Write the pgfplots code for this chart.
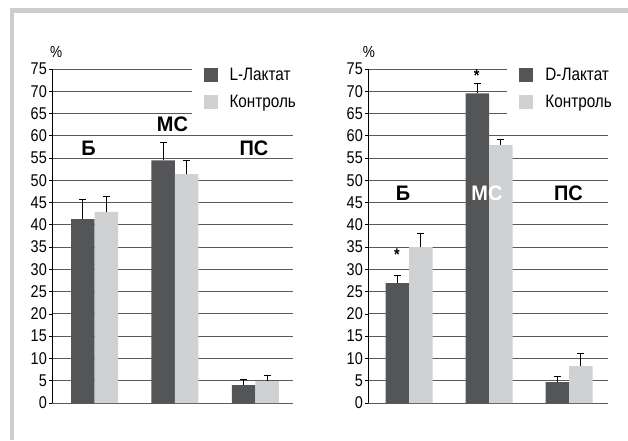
\documentclass[border=0pt]{standalone}
\usepackage{pgfplots}
\pgfplotsset{compat=1.18}
\usepackage{fontspec}
\setmainfont{Liberation Sans}[FakeStretch=0.85]
\newfontfamily\labfont{Liberation Sans}[FakeStretch=0.95]
\definecolor{darkbar}{HTML}{545557}
\definecolor{lightbar}{HTML}{D0D1D3}
\definecolor{gridgray}{HTML}{5A5A5A}
\definecolor{framegray}{HTML}{CDCDCD}
\pgfplotsset{
  common/.style={
    scale only axis, width=#1, height=334pt,
    ymin=0, ymax=75, ytick={0,5,...,75}, xtick=\empty,
    axis x line=none, axis y line*=left,
    y axis line style={-, black, line width=0.8pt},
    ymajorgrids, grid style={color=gridgray, line width=1pt},
    ytick style={black, line width=0.8pt}, major tick length=3pt, tick align=outside,
    yticklabel style={font=\fontsize{17}{17}\selectfont, inner sep=2pt},
    /pgf/number format/assume math mode=true,
    ybar=0pt, bar width=23.5pt, clip=false,
    legend style={draw=none, fill=white, font=\fontsize{18}{18}\selectfont,
      inner xsep=12pt, inner ysep=5pt, row sep=9pt, column sep=10pt, legend cell align=left,
      anchor=north west},
    legend image code/.code={\draw[##1, draw=none] (0pt,-7pt) rectangle (14pt,7pt);},
  },
  bars/.style={draw=none, fill=#1,
    error bars/.cd, y dir=plus, y explicit,
    error bar style={black, line width=0.9pt},
    error mark options={rotate=90, mark size=3.5pt, line width=0.9pt, black}},
}
\begin{document}
\begin{tikzpicture}[x=1pt,y=1pt]
\useasboundingbox (0,0) rectangle (628,440);
\fill[framegray] (10,426.7) rectangle (628,431.7);
\fill[framegray] (10,0) rectangle (14,431.7);

\begin{axis}[common=241pt, at={(52pt,37pt)}, anchor=south west,
  xmin=-0.528, xmax=2.466,
  legend style={at={(rel axis cs:0.578,1.025)}}]
\addplot[bars=darkbar] coordinates {(0,41.3) +- (0,4.3) (1,54.5) +- (0,4.1) (2,4.0) +- (0,1.3)};
\addplot[bars=lightbar] coordinates {(0,42.9) +- (0,3.4) (1,51.4) +- (0,3.0) (2,4.9) +- (0,1.3)};
\legend{L-Лактат, Контроль}
\node[font=\labfont\bfseries\fontsize{21}{21}\selectfont] at (axis cs:-0.075,57.2) {Б};
\node[font=\labfont\bfseries\fontsize{21}{21}\selectfont] at (axis cs:0.969,62.7) {МС};
\node[font=\labfont\bfseries\fontsize{21}{21}\selectfont] at (axis cs:1.981,57.2) {ПС};
\node[font=\fontsize{16}{16}\selectfont] at (rel axis cs:0.017,1.051) {\%};
\end{axis}

\begin{axis}[common=240pt, at={(368pt,37pt)}, anchor=south west,
  xmin=-0.5125, xmax=2.4875,
  legend style={at={(rel axis cs:0.58,1.025)}}]
\addplot[bars=darkbar] coordinates {(0,26.9) +- (0,1.8) (1,69.5) +- (0,2.2) (2,4.7) +- (0,1.2)};
\addplot[bars=lightbar] coordinates {(0,35.0) +- (0,3.1) (1,57.9) +- (0,1.2) (2,8.3) +- (0,2.9)};
\legend{D-Лактат, Контроль}
\node[font=\labfont\bfseries\fontsize{21}{21}\selectfont] at (axis cs:-0.075,47) {Б};
\node[font=\labfont\bfseries\fontsize{21}{21}\selectfont, text=white] at (axis cs:0.975,47) {МС};
\node[font=\labfont\bfseries\fontsize{21}{21}\selectfont] at (axis cs:1.994,47) {ПС};
\node[font=\bfseries\fontsize{17}{17}\selectfont] at (axis cs:-0.15,33.3) {*};
\node[font=\bfseries\fontsize{17}{17}\selectfont] at (axis cs:0.845,73.5) {*};
\node[font=\fontsize{16}{16}\selectfont] at (rel axis cs:0.004,1.051) {\%};
\end{axis}
\end{tikzpicture}
\end{document}
